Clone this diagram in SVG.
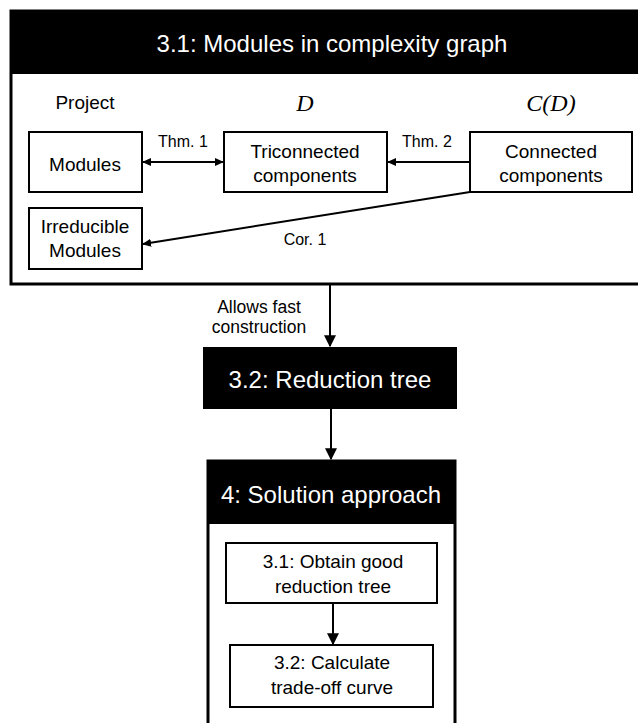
<svg xmlns="http://www.w3.org/2000/svg" width="638" height="723" viewBox="0 0 638 723">
<style>
.t{font-family:"Liberation Sans",Arial,sans-serif;fill:#000;text-anchor:middle}
.h{font-family:"Liberation Sans",Arial,sans-serif;fill:#fff;text-anchor:middle;font-size:24px}
.n{font-size:19px}
.l{font-size:16px}
.a{font-size:17.5px}
.m{font-family:"Liberation Serif","Times New Roman",serif;font-style:italic;font-size:24px;text-anchor:middle}
.box{fill:#fff;stroke:#000;stroke-width:2}
.c{stroke:#000;stroke-width:2;fill:none}
</style>
<defs>
<marker id="ah" viewBox="0 0 10 10" refX="9" refY="5" markerWidth="4.5" markerHeight="4" orient="auto-start-reverse" markerUnits="strokeWidth" preserveAspectRatio="none">
<path d="M0,0 L10,5 L0,10 z" fill="#000"/>
</marker>
<marker id="av" viewBox="0 0 10 10" refX="9" refY="5" markerWidth="6" markerHeight="6" orient="auto" markerUnits="strokeWidth">
<path d="M0,0 L10,5 L0,10 z" fill="#000"/>
</marker>
</defs>
<rect width="638" height="723" fill="#fff"/>
<g id="sec31">
<rect x="11" y="11" width="640" height="273" fill="#fff" stroke="#000" stroke-width="3"/>
<rect x="11" y="11" width="640" height="63" fill="#000"/>
<text class="h" x="332" y="52">3.1: Modules in complexity graph</text>
<text class="t n" x="85" y="109">Project</text>
<text class="m" x="305" y="111">D</text>
<text class="m" x="551" y="111">C(D)</text>
</g>
<g id="modules">
<rect class="box" x="29" y="132" width="113" height="60"/>
<text class="t n" x="85" y="171">Modules</text>
</g>
<g id="tri">
<rect class="box" x="224" y="132" width="163" height="60"/>
<text class="t n" x="305" y="158">Triconnected</text>
<text class="t n" x="305" y="182">components</text>
</g>
<g id="conn">
<rect class="box" x="470" y="132" width="162" height="60"/>
<text class="t n" x="551" y="158">Connected</text>
<text class="t n" x="551" y="182">components</text>
</g>
<g id="irr">
<rect class="box" x="29" y="208" width="113" height="61"/>
<text class="t n" x="85" y="233">Irreducible</text>
<text class="t n" x="85" y="257">Modules</text>
</g>
<g id="sec32">
<rect x="203" y="347" width="254" height="62" fill="#000"/>
<text class="h" x="330" y="388">3.2: Reduction tree</text>
</g>
<g id="sec4">
<path d="M208,724 V461 H455 V724" fill="#fff" stroke="#000" stroke-width="3"/>
<rect x="208" y="461" width="247" height="63" fill="#000"/>
<text class="h" x="331" y="503">4: Solution approach</text>
</g>
<g id="obtain">
<rect class="box" x="226" y="543" width="211" height="60"/>
<text class="t n" x="333" y="568">3.1: Obtain good</text>
<text class="t n" x="333" y="593">reduction tree</text>
</g>
<g id="calc">
<rect class="box" x="230" y="645" width="203" height="62"/>
<text class="t n" x="332" y="669">3.2: Calculate</text>
<text class="t n" x="332" y="694">trade-off curve</text>
</g>
<g id="connectors">
<line class="c" x1="143" y1="162" x2="223" y2="162" marker-start="url(#ah)" marker-end="url(#ah)"/>
<text class="t l" x="183" y="147">Thm. 1</text>
<line class="c" x1="469" y1="162" x2="388" y2="162" marker-end="url(#ah)"/>
<text class="t l" x="427" y="147">Thm. 2</text>
<line class="c" x1="470" y1="192" x2="143" y2="244" marker-end="url(#ah)"/>
<text class="t l" x="305" y="245">Cor. 1</text>
<line class="c" x1="330" y1="285" x2="330" y2="346" marker-end="url(#av)"/>
<text class="t a" x="259" y="313">Allows fast</text>
<text class="t a" x="259" y="333">construction</text>
<line class="c" x1="331" y1="409" x2="331" y2="459" marker-end="url(#av)"/>
<line class="c" x1="333" y1="603" x2="333" y2="644" marker-end="url(#av)"/>
</g>
</svg>
